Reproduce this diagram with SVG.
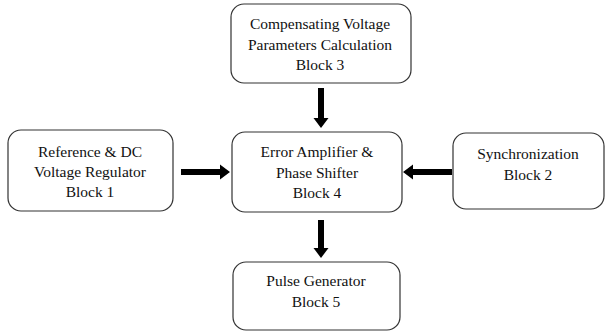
<svg xmlns="http://www.w3.org/2000/svg" width="612" height="336" viewBox="0 0 612 336">
<defs>
<style>
.box{fill:#fff;stroke:#333;stroke-width:1.2}
.t{font-family:'Liberation Serif','Times New Roman',serif;font-size:15.5px;fill:#111;text-anchor:middle}
.shaft{fill:#000}
</style>
</defs>
<rect width="612" height="336" fill="#fff"/>
<g id="connectors">
<path class="shaft" d="M318 88h6v30h4.5l-7.5 10l-7.5-10h4.5z"/>
<path class="shaft" d="M181 169h39v-4.5l10 7.5l-10 7.5v-4.5h-39z"/>
<path class="shaft" d="M452 169h-39v-4.5l-10 7.5l10 7.5v-4.5h39z"/>
<path class="shaft" d="M318 220h6v28h4.5l-7.5 10l-7.5-10h4.5z"/>
</g>
<g id="block3">
<rect class="box" x="231" y="4" width="180" height="79" rx="13"/>
<text class="t" x="320" y="29">Compensating Voltage</text>
<text class="t" x="320" y="50">Parameters Calculation</text>
<text class="t" x="320" y="70">Block 3</text>
</g>
<g id="block1">
<rect class="box" x="8" y="130" width="165" height="81" rx="13"/>
<text class="t" x="90" y="157">Reference &amp; DC</text>
<text class="t" x="90" y="177">Voltage Regulator</text>
<text class="t" x="90" y="197">Block 1</text>
</g>
<g id="block4">
<rect class="box" x="232" y="132" width="170" height="80" rx="13"/>
<text class="t" x="317" y="157">Error Amplifier &amp;</text>
<text class="t" x="317" y="178">Phase Shifter</text>
<text class="t" x="317" y="198">Block 4</text>
</g>
<g id="block2">
<rect class="box" x="453" y="133" width="151" height="76" rx="13"/>
<text class="t" x="528" y="159">Synchronization</text>
<text class="t" x="528" y="180">Block 2</text>
</g>
<g id="block5">
<rect class="box" x="233" y="262" width="167" height="68" rx="13"/>
<text class="t" x="316" y="286">Pulse Generator</text>
<text class="t" x="316" y="307">Block 5</text>
</g>
</svg>
